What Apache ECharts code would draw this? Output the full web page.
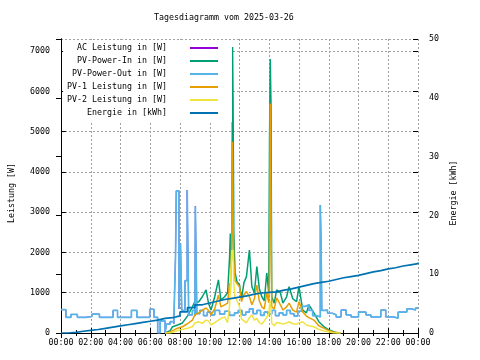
<!DOCTYPE html>
<html><head><meta charset="utf-8">
<script src="https://cdn.jsdelivr.net/npm/echarts@6/dist/echarts.min.js"></script>
<style>html,body{margin:0;padding:0;background:#fff}#c{width:480px;height:360px}</style>
</head><body><div id="c"></div>
<script>
// ---- data (minutes since 00:00) ----
const xTickLabels = ['00:00','02:00','04:00','06:00','08:00','10:00','12:00','14:00','16:00','18:00','20:00','22:00','00:00'];
const seriesNames = ['AC Leistung in [W]','PV-Power-In in [W]','PV-Power-Out in [W]','PV-1 Leistung in [W]','PV-2 Leistung in [W]','Energie in [kWh]'];

const outTimes = [0,20,40,66,100,125,155,210,228,284,306,358,375,390,400,420,425,440,455,462,465,476,482,487,500,509,515,530,540,542,548,560,575,590,605,620,640,660,680,700,715,730,745,760,775,790,805,820,835,850,865,880,895,910,925,940,955,970,985,1000,1015,1030,1046,1049,1052,1065,1075,1095,1110,1130,1150,1170,1200,1230,1250,1290,1310,1340,1360,1395,1415,1430,1440];
const pvPowerOut = [580,390,460,390,410,470,390,560,390,560,390,590,390,0,300,0,220,280,230,1930,3530,600,2230,560,1300,3550,450,560,420,3150,480,560,430,520,450,560,470,540,440,500,560,450,520,600,480,560,440,520,470,560,430,500,450,560,480,420,540,660,700,560,430,400,3175,2180,560,570,490,450,400,570,450,400,520,450,400,570,400,370,520,600,570,620,620];
const acLeistung = [580,390,460,390,410,470,390,560,390,560,390,590,390,0,300,0,220,280,230,1930,3530,600,2230,560,1300,3550,450,560,420,3150,480,560,430,520,450,560,470,540,440,500,560,450,520,600,480,560,440,520,470,560,430,500,450,560,480,420,540,660,700,560,430,400,3175,2180,560,570,490,450,400,570,450,400,520,450,400,570,400,370,520,600,570,620,620];

const pvTimes = [420,440,450,470,490,510,530,540,555,570,585,595,605,620,635,645,660,672,680,683,686,689,692,694,697,702,710,720,728,738,748,760,770,780,790,800,810,820,830,838,841,844,847,850,860,870,885,895,910,920,935,950,960,975,990,1000,1020,1040,1060,1080,1100,1115,1128];
const pvPowerIn = [0,60,155,200,250,420,650,780,770,900,1070,740,570,900,1320,820,900,1000,1890,2470,1600,2300,7100,5780,2500,1500,1270,1200,850,1250,1400,2060,1150,1000,1650,1100,900,800,1490,1000,4690,6800,5700,900,740,1070,1000,740,900,1150,850,780,1150,570,500,700,500,280,160,80,30,0,0];
const pv1 = [0,20,60,120,155,230,320,450,500,570,620,560,450,600,940,650,700,740,1240,1000,1500,2500,4750,3000,1800,1300,1230,1150,780,950,1030,900,700,850,1190,800,650,600,1000,750,1500,5700,5700,650,600,870,700,570,650,740,570,520,780,520,420,380,320,180,120,60,20,10,0];
const pv2 = [0,0,20,60,90,120,155,250,280,240,320,300,200,260,320,360,400,260,700,1100,1600,2060,1800,2060,1200,900,800,650,350,300,250,380,450,320,360,260,220,300,400,450,700,800,600,240,180,260,240,220,250,280,230,220,250,280,200,180,155,90,50,30,0,0,0];

const energyTimes = [0,30,60,90,120,150,180,210,240,270,300,330,360,390,420,450,480,510,540,570,600,630,660,690,720,750,780,810,840,870,900,930,960,990,1020,1050,1080,1110,1140,1170,1200,1230,1260,1290,1320,1350,1380,1410,1440];
const energie = [0,0.1,0.3,0.45,0.6,0.8,1.0,1.2,1.4,1.6,1.8,2.0,2.2,2.5,2.6,2.9,3.6,4.3,4.8,5.1,5.4,5.7,5.9,6.1,6.3,6.6,6.8,6.9,7.0,7.3,7.5,7.8,8.1,8.4,8.6,8.8,9.1,9.4,9.6,9.8,10.1,10.4,10.6,10.9,11.1,11.4,11.6,11.8,12.0];

const leftTicks = [0,1000,2000,3000,4000,5000,6000,7000];
const rightTicks = [0,10,20,30,40,50];

// ---- chart ----
const FONT = 'DejaVu Sans Mono';
const FS = 8.3;
const colors = ['#9400d3','#009e73','#56b4e9','#e69f00','#f0e442','#0072b2'];
const zip = (t, v) => t.map((x, i) => [x, v[i]]);
const fmtX = v => xTickLabels[Math.round(v / 120)] || '';

const chart = echarts.init(document.getElementById('c'), null, {renderer: 'canvas'});
const dash = {color: '#a0a0a0', width: 1, type: [2, 2]};
const lbl = {fontFamily: FONT, fontSize: FS, color: '#000'};
chart.setOption({
  animation: false,
  backgroundColor: '#fff',
  color: colors,
  title: {
    text: 'Tagesdiagramm vom 2025-03-26',
    left: 154, top: 14, padding: 0,
    textStyle: {fontFamily: FONT, fontSize: FS, fontWeight: 'normal', color: '#000'}
  },
  legend: {
    orient: 'vertical', align: 'right', right: 248, top: 40, padding: [3, 14, 4, 4],
    backgroundColor: '#fff',
    icon: 'rect', itemWidth: 28, itemHeight: 2, itemGap: 3,
    data: seriesNames,
    textStyle: {fontFamily: FONT, fontSize: FS, color: '#000', lineHeight: 10, padding: [0, 18, 0, 0]}
  },
  grid: {left: 58, right: 62, top: 39, bottom: 27, containLabel: false},
  xAxis: [{
    type: 'value', min: 0, max: 1440, interval: 120, position: 'bottom',
    axisLine: {show: true, lineStyle: {color: '#000', width: 1}},
    axisTick: {show: true, inside: true, length: 5, lineStyle: {color: '#000'}},
    minorTick: {show: true, splitNumber: 2, length: 3, lineStyle: {color: '#000'}},
    axisLabel: Object.assign({formatter: fmtX, margin: 6}, lbl),
    splitLine: {show: true, lineStyle: dash}
  }, {
    type: 'value', min: 0, max: 1440, interval: 120, position: 'top',
    axisLine: {show: true, lineStyle: {color: '#000', width: 1}},
    axisTick: {show: true, inside: true, length: 5, lineStyle: {color: '#000'}},
    minorTick: {show: true, splitNumber: 2, length: 3, lineStyle: {color: '#000'}},
    axisLabel: {show: false}, splitLine: {show: false}
  }],
  yAxis: [{
    type: 'value', min: leftTicks[0], max: 7300, interval: 1000, position: 'left',
    name: 'Leistung [W]', nameLocation: 'middle', nameGap: 45, nameRotate: 90,
    nameTextStyle: Object.assign({padding: [0, 14, 0, 0]}, lbl),
    axisLine: {show: true, lineStyle: {color: '#000', width: 1}},
    axisTick: {show: true, inside: true, length: 5, lineStyle: {color: '#000'}},
    axisLabel: Object.assign({margin: 11, showMaxLabel: false, formatter: v => String(v)}, lbl),
    splitLine: {show: true, lineStyle: dash}
  }, {
    type: 'value', min: rightTicks[0], max: rightTicks[rightTicks.length - 1], interval: 10, position: 'right',
    name: 'Energie [kWh]', nameLocation: 'middle', nameGap: 31, nameRotate: 90,
    nameTextStyle: Object.assign({padding: [0, 14, 0, 0]}, lbl),
    axisLine: {show: true, lineStyle: {color: '#000', width: 1}},
    axisTick: {show: true, inside: true, length: 5, lineStyle: {color: '#000'}},
    axisLabel: Object.assign({margin: 11, formatter: v => String(v)}, lbl),
    splitLine: {show: false}
  }, {
    type: 'value', min: 0, max: 7300, interval: 1000, position: 'right',
    axisLine: {show: false}, axisLabel: {show: false}, splitLine: {show: false},
    axisTick: {show: true, inside: true, length: 5, lineStyle: {color: '#000'}}
  }],
  series: [
    {name: seriesNames[0], type: 'line', step: 'end', symbol: 'none', data: zip(outTimes, acLeistung), lineStyle: {width: 1}, yAxisIndex: 0},
    {name: seriesNames[1], type: 'line', symbol: 'none', data: zip(pvTimes, pvPowerIn), lineStyle: {width: 1.5}, yAxisIndex: 0},
    {name: seriesNames[2], type: 'line', step: 'end', symbol: 'none', data: zip(outTimes, pvPowerOut), lineStyle: {width: 1.7}, yAxisIndex: 0},
    {name: seriesNames[3], type: 'line', symbol: 'none', data: zip(pvTimes, pv1), lineStyle: {width: 1.5}, yAxisIndex: 0},
    {name: seriesNames[4], type: 'line', symbol: 'none', data: zip(pvTimes, pv2), lineStyle: {width: 1.5}, yAxisIndex: 0},
    {name: seriesNames[5], type: 'line', step: 'end', symbol: 'none', data: zip(energyTimes, energie), lineStyle: {width: 1.7}, yAxisIndex: 1}
  ]
});
</script></body></html>
